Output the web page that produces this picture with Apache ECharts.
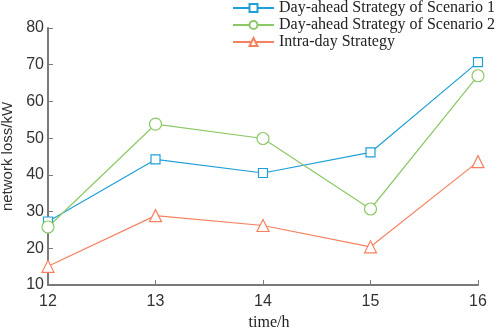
<!DOCTYPE html>
<html>
<head>
<meta charset="utf-8">
<script src="https://cdn.jsdelivr.net/npm/echarts@6/dist/echarts.min.js"></script>
<style>
  html, body { margin: 0; padding: 0; background: #fff; }
  #chart { width: 498px; height: 327px; }
</style>
</head>
<body>
<div id="chart"></div>
<script>
// 数据
const hours = ['12', '13', '14', '15', '16'];
const scenario1 = [27.3, 44.2, 40.5, 46.1, 70.7];
const scenario2 = [25.8, 53.8, 49.9, 30.7, 67.0];
const intraDay = [15.1, 28.9, 26.2, 20.4, 43.6];
const seriesNames = ['Day-ahead Strategy of Scenario 1', 'Day-ahead Strategy of Scenario 2', 'Intra-day Strategy'];

const myChart = echarts.init(document.getElementById('chart'));
const axisColor = '#7a7a7a';
const labelStyle = { fontFamily: 'Liberation Sans', fontSize: 16, color: '#333' };

const makeSeries = (name, data, color, symbol, size) => ({
  name: name,
  type: 'line',
  data: data,
  symbol: symbol,
  symbolSize: size,
  color: color,
  lineStyle: { width: 1.2, color: color },
  // 空心标记
  itemStyle: { color: '#fff', borderColor: color, borderWidth: 1.2 }
});

const option = {
  animation: false,
  grid: { left: 48, right: 20, top: 28, bottom: 42, outerBoundsMode: 'none', containLabel: false },
  legend: {
    orient: 'vertical',
    left: 232,
    top: 0,
    padding: 0,
    itemWidth: 41,
    itemHeight: 10,
    itemGap: 1,
    textStyle: { fontFamily: 'Liberation Serif', fontSize: 16, color: '#222' },
    data: seriesNames
  },
  xAxis: {
    type: 'category',
    data: hours,
    boundaryGap: false,
    name: 'time/h',
    nameLocation: 'middle',
    nameGap: 25,
    nameTextStyle: { fontFamily: 'Liberation Serif', fontSize: 16, color: '#222', padding: [0, 0, 0, 12] },
    axisLine: { lineStyle: { color: axisColor, width: 2 } },
    axisTick: { inside: true, length: 5, lineStyle: { color: axisColor } },
    axisLabel: Object.assign({ margin: 9 }, labelStyle),
    splitLine: { show: false }
  },
  yAxis: {
    type: 'value',
    min: 10,
    max: 80,
    interval: 10,
    name: 'network loss/kW',
    nameLocation: 'middle',
    nameGap: 26,
    nameTextStyle: { fontFamily: 'Liberation Sans', fontSize: 15, color: '#333' },
    axisLine: { show: true, lineStyle: { color: axisColor, width: 2 } },
    axisTick: { show: true, inside: true, length: 5, lineStyle: { color: axisColor } },
    axisLabel: Object.assign({ margin: 4 }, labelStyle),
    splitLine: { show: false }
  },
  series: [
    makeSeries(seriesNames[0], scenario1, '#1f9fd8', 'rect', 9),
    makeSeries(seriesNames[1], scenario2, '#8cc865', 'circle', 12),
    makeSeries(seriesNames[2], intraDay, '#f7805f', 'triangle', 12)
  ]
};
myChart.setOption(option);
</script>
</body>
</html>
